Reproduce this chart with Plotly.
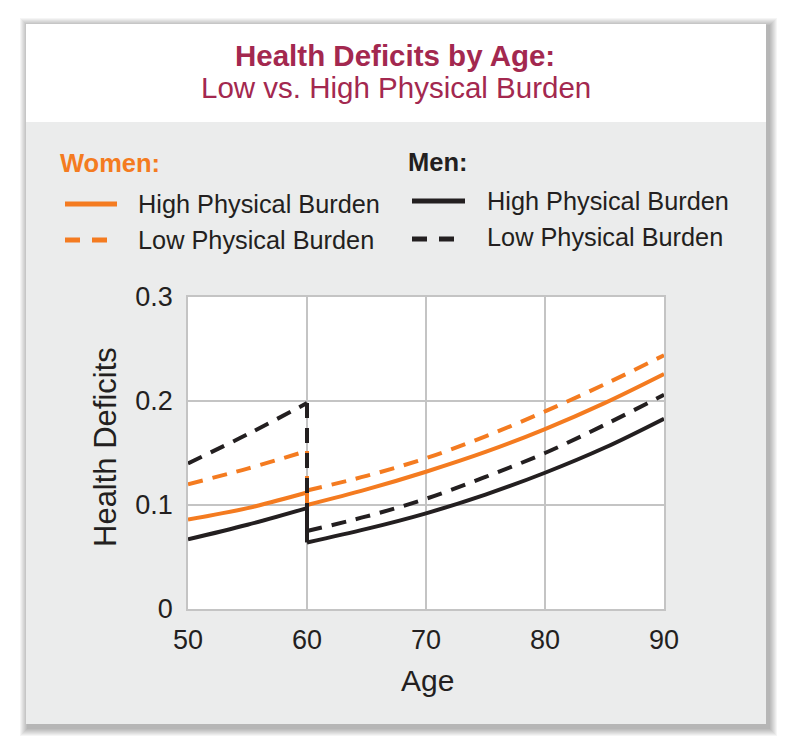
import plotly.graph_objects as go

# ages on either side of the break at 60
age_before = [50, 55, 60]
age_after = [60, 65, 70, 75, 80, 85, 90]

women_high_before = [0.086, 0.097, 0.112]
women_high_after = [0.100, 0.115, 0.132, 0.151, 0.173, 0.198, 0.226]
women_low_before = [0.120, 0.135, 0.152]
women_low_after = [0.114, 0.128, 0.145, 0.166, 0.190, 0.216, 0.244]
men_high_before = [0.067, 0.081, 0.097]
men_high_after = [0.064, 0.077, 0.092, 0.110, 0.131, 0.155, 0.183]
men_low_before = [0.140, 0.168, 0.198]
men_low_after = [0.075, 0.089, 0.106, 0.127, 0.150, 0.177, 0.206]

x_ticks = [50, 60, 70, 80, 90]
y_ticks = [0, 0.1, 0.2, 0.3]
y_tick_text = ["0", "0.1", "0.2", "0.3"]

ORANGE = "#f47b20"
BLACK = "#231f20"
CRIMSON = "#a3284f"
CARD = "#ebecec"
GRID = "#c4c4c4"
SANS = "Liberation Sans, Arial, sans-serif"
DASH = "15px,10px"

W, H = 798, 748
L, R, T, B = 188, 664, 297, 609


def px(x):
    return (x - L) / (R - L)


def py(y):
    return (B - y) / (B - T)


fig = go.Figure()

series = [
    (women_high_before, women_high_after, ORANGE, "solid", "Women: High Physical Burden"),
    (women_low_before, women_low_after, ORANGE, DASH, "Women: Low Physical Burden"),
    (men_high_before, men_high_after, BLACK, "solid", "Men: High Physical Burden"),
    (men_low_before, men_low_after, BLACK, DASH, "Men: Low Physical Burden"),
]
for before, after, color, dash, name in series:
    line = dict(color=color, width=4, dash=dash)
    # smooth curve before 60, vertical drop at 60, smooth curve after
    fig.add_trace(go.Scatter(x=age_before, y=before, mode="lines", name=name,
                             line=dict(line, shape="spline", smoothing=1), showlegend=False))
    fig.add_trace(go.Scatter(x=[age_before[-1], age_after[0]], y=[before[-1], after[0]],
                             mode="lines", name=name, line=line, showlegend=False,
                             hoverinfo="skip"))
    fig.add_trace(go.Scatter(x=age_after, y=after, mode="lines", name=name,
                             line=dict(line, shape="spline", smoothing=1), showlegend=False))

shapes = []
# soft card shadow
for i in range(8, 0, -1):
    shapes.append(dict(type="rect", xref="paper", yref="paper", layer="below",
                       x0=px(26 - i + 2), x1=px(766 + i + 3), y0=py(24 - i + 2), y1=py(724 + i + 4),
                       line_width=0, fillcolor="rgba(0,0,0,0.04)"))
# card: white header, gray body, white plot area
shapes.append(dict(type="rect", xref="paper", yref="paper", layer="below",
                   x0=px(26), x1=px(766), y0=py(24), y1=py(122), line_width=0, fillcolor="white"))
shapes.append(dict(type="rect", xref="paper", yref="paper", layer="below",
                   x0=px(26), x1=px(766), y0=py(122), y1=py(724), line_width=0, fillcolor=CARD))
shapes.append(dict(type="rect", xref="paper", yref="paper", layer="below",
                   x0=0, x1=1, y0=0, y1=1, line_width=0, fillcolor="white"))

# legend samples
legend_rows = [
    (65, 117, 204, ORANGE, "solid"),
    (65, 110, 240, ORANGE, "15px,12px"),
    (412, 465, 201, BLACK, "solid"),
    (412, 458, 239, BLACK, "15px,12px"),
]
for x0, x1, y, color, dash in legend_rows:
    shapes.append(dict(type="line", xref="paper", yref="paper", x0=px(x0), x1=px(x1),
                       y0=py(y), y1=py(y), line=dict(color=color, width=5, dash=dash)))

annotations = []


def label(text, x, y, size, color, xanchor="left", angle=0):
    annotations.append(dict(text=text, x=px(x), y=py(y), xref="paper", yref="paper",
                            xanchor=xanchor, yanchor="middle", showarrow=False, textangle=angle,
                            font=dict(family=SANS, size=size, color=color)))


label("<b>Health Deficits by Age:</b>", 395, 55, 29.5, CRIMSON, xanchor="center")
label("Low vs. High Physical Burden", 396, 88, 29.5, CRIMSON, xanchor="center")
label("<b>Women:</b>", 58, 163, 25.5, ORANGE)
label("<b>Men:</b>", 406, 162, 25.5, BLACK)
label("High Physical Burden", 136, 204, 25.3, BLACK)
label("Low Physical Burden", 136, 240, 25.3, BLACK)
label("High Physical Burden", 485, 201, 25.3, BLACK)
label("Low Physical Burden", 485, 237, 25.3, BLACK)
label("Health Deficits", 105, 447, 31, BLACK, xanchor="center", angle=-90)
label("Age", 427, 680, 30, BLACK, xanchor="center")

fig.update_layout(
    width=W, height=H,
    margin=dict(l=L, r=W - R, t=T, b=H - B),
    paper_bgcolor="white", plot_bgcolor="white",
    shapes=shapes, annotations=annotations,
    showlegend=False,
    font=dict(family=SANS, color=BLACK),
)
fig.update_xaxes(
    range=[50, 90], tickvals=x_ticks, showgrid=True, gridcolor=GRID, gridwidth=1.5,
    showline=True, mirror=True, linecolor=GRID, linewidth=1.5, zeroline=False,
    ticks="outside", ticklen=6, tickcolor="rgba(0,0,0,0)",
    tickfont=dict(family=SANS, size=27, color=BLACK),
)
fig.update_yaxes(
    range=[0, 0.3], tickvals=y_ticks, ticktext=y_tick_text, showgrid=True, gridcolor=GRID,
    gridwidth=1.5, showline=True, mirror=True, linecolor=GRID, linewidth=1.5, zeroline=False,
    ticks="outside", ticklen=8, tickcolor="rgba(0,0,0,0)",
    tickfont=dict(family=SANS, size=27, color=BLACK),
)

fig.write_html("out.html", config={"displayModeBar": False},
               post_script="document.body.style.margin='0';")
